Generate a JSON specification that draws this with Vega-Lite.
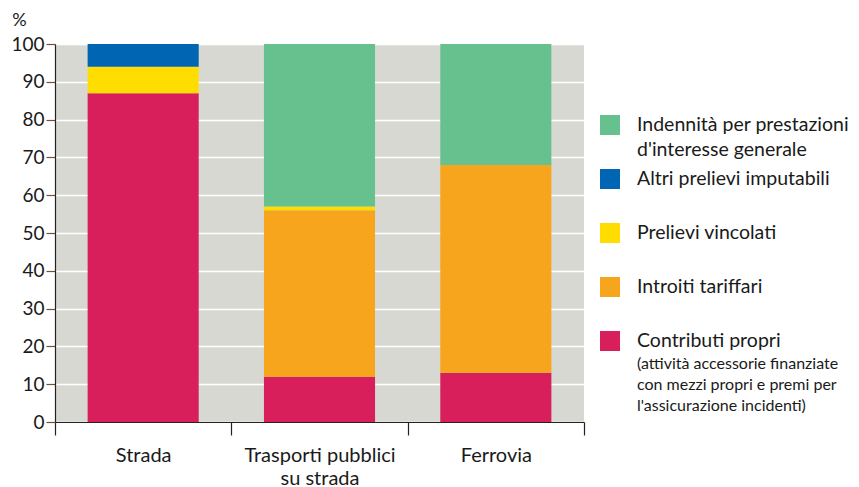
{
  "$schema": "https://vega.github.io/schema/vega-lite/v6.json",
  "background": "white",
  "padding": {"left": 10, "top": 11, "right": 0, "bottom": 0},
  "config": {
    "font": "Lato",
    "text": {"font": "Lato", "color": "#1a1a1a"},
    "concat": {"spacing": 15},
    "axis": {"labelFont": "Lato", "titleFont": "Lato", "labelColor": "#1a1a1a", "titleColor": "#1a1a1a"}
  },
  "datasets": {
    "quote": [
      {"trasporto": "Strada", "fonte": "Contributi propri", "quota": 87},
      {"trasporto": "Strada", "fonte": "Prelievi vincolati", "quota": 7},
      {"trasporto": "Strada", "fonte": "Altri prelievi imputabili", "quota": 6},
      {"trasporto": "Trasporti pubblici su strada", "fonte": "Contributi propri", "quota": 12},
      {"trasporto": "Trasporti pubblici su strada", "fonte": "Introiti tariffari", "quota": 44},
      {"trasporto": "Trasporti pubblici su strada", "fonte": "Prelievi vincolati", "quota": 1},
      {"trasporto": "Trasporti pubblici su strada", "fonte": "Indennità per prestazioni d'interesse generale", "quota": 43},
      {"trasporto": "Ferrovia", "fonte": "Contributi propri", "quota": 13},
      {"trasporto": "Ferrovia", "fonte": "Introiti tariffari", "quota": 55},
      {"trasporto": "Ferrovia", "fonte": "Indennità per prestazioni d'interesse generale", "quota": 32}
    ],
    "voci": [
      {"fonte": "Indennità per prestazioni d'interesse generale", "etichetta": "Indennità per prestazioni\nd'interesse generale"},
      {"fonte": "Altri prelievi imputabili", "etichetta": "Altri prelievi imputabili"},
      {"fonte": "Prelievi vincolati", "etichetta": "Prelievi vincolati"},
      {"fonte": "Introiti tariffari", "etichetta": "Introiti tariffari"},
      {"fonte": "Contributi propri", "etichetta": "Contributi propri", "nota": "(attività accessorie finanziate\ncon mezzi propri e premi per\nl'assicurazione incidenti)"}
    ]
  },
  "hconcat": [
    {
      "width": 529,
      "height": 378,
      "view": {"fill": "#D8D8D3", "stroke": null},
      "data": {"name": "quote"},
      "transform": [
        {
          "calculate": "indexof(['Contributi propri', 'Introiti tariffari', 'Prelievi vincolati', 'Altri prelievi imputabili', \"Indennità per prestazioni d'interesse generale\"], datum.fonte)",
          "as": "ordine"
        }
      ],
      "mark": {"type": "bar", "width": {"band": 0.63}},
      "encoding": {
        "x": {
          "field": "trasporto",
          "type": "nominal",
          "sort": ["Strada", "Trasporti pubblici su strada", "Ferrovia"],
          "scale": {"paddingInner": 0, "paddingOuter": 0},
          "axis": {
            "title": null,
            "labelAngle": 0,
            "labelFontSize": 20,
            "labelLineHeight": 23,
            "labelBaseline": "top",
            "labelPadding": 10,
            "labelExpr": "datum.label == 'Trasporti pubblici su strada' ? ['Trasporti pubblici', 'su strada'] : datum.label",
            "tickBand": "extent",
            "tickSize": 13,
            "tickColor": "#222222",
            "domainColor": "#222222",
            "domainWidth": 1.2,
            "tickWidth": 1.2
          }
        },
        "y": {
          "field": "quota",
          "type": "quantitative",
          "stack": "zero",
          "scale": {"domain": [0, 100], "nice": false},
          "axis": {
            "title": "%",
            "titleAngle": 0,
            "titleFontSize": 18,
            "titleFontWeight": "normal",
            "titleAlign": "center",
            "titleBaseline": "alphabetic",
            "titleX": -36,
            "titleY": -19,
            "values": [0, 10, 20, 30, 40, 50, 60, 70, 80, 90, 100],
            "labelFontSize": 19,
            "labelPadding": 2,
            "tickSize": 9,
            "tickColor": "#6e5236",
            "tickWidth": 1.2,
            "domainColor": "#222222",
            "domainWidth": 1.2,
            "grid": true,
            "gridColor": "#ffffff",
            "gridWidth": 1.5
          }
        },
        "color": {
          "field": "fonte",
          "type": "nominal",
          "scale": {
            "domain": ["Contributi propri", "Introiti tariffari", "Prelievi vincolati", "Altri prelievi imputabili", "Indennità per prestazioni d'interesse generale"],
            "range": ["#D81E5B", "#F7A51D", "#FFDD00", "#0066B3", "#66C18E"]
          },
          "legend": null
        },
        "order": {"field": "ordine", "type": "quantitative"}
      }
    },
    {
      "width": 20,
      "height": 378,
      "view": {"stroke": null, "fill": null},
      "data": {"name": "voci"},
      "encoding": {
        "y": {
          "field": "fonte",
          "type": "nominal",
          "sort": null,
          "scale": {"type": "band", "paddingInner": 0, "paddingOuter": 1.06},
          "axis": null
        },
        "color": {"field": "fonte", "type": "nominal", "legend": null}
      },
      "layer": [
        {"mark": {"type": "square", "size": 400, "opacity": 1, "filled": true}},
        {
          "mark": {"type": "text", "align": "left", "baseline": "top", "dx": 27, "dy": -9, "fontSize": 19.5, "lineBreak": "\n", "lineHeight": 25, "color": "#1a1a1a"},
          "encoding": {"text": {"field": "etichetta"}, "color": {"value": "#1a1a1a"}}
        },
        {
          "transform": [{"filter": "datum.nota != null"}],
          "mark": {"type": "text", "align": "left", "baseline": "top", "dx": 27, "dy": 15, "fontSize": 16, "lineBreak": "\n", "lineHeight": 21, "color": "#1a1a1a"},
          "encoding": {"text": {"field": "nota"}, "color": {"value": "#1a1a1a"}}
        }
      ]
    }
  ]
}
